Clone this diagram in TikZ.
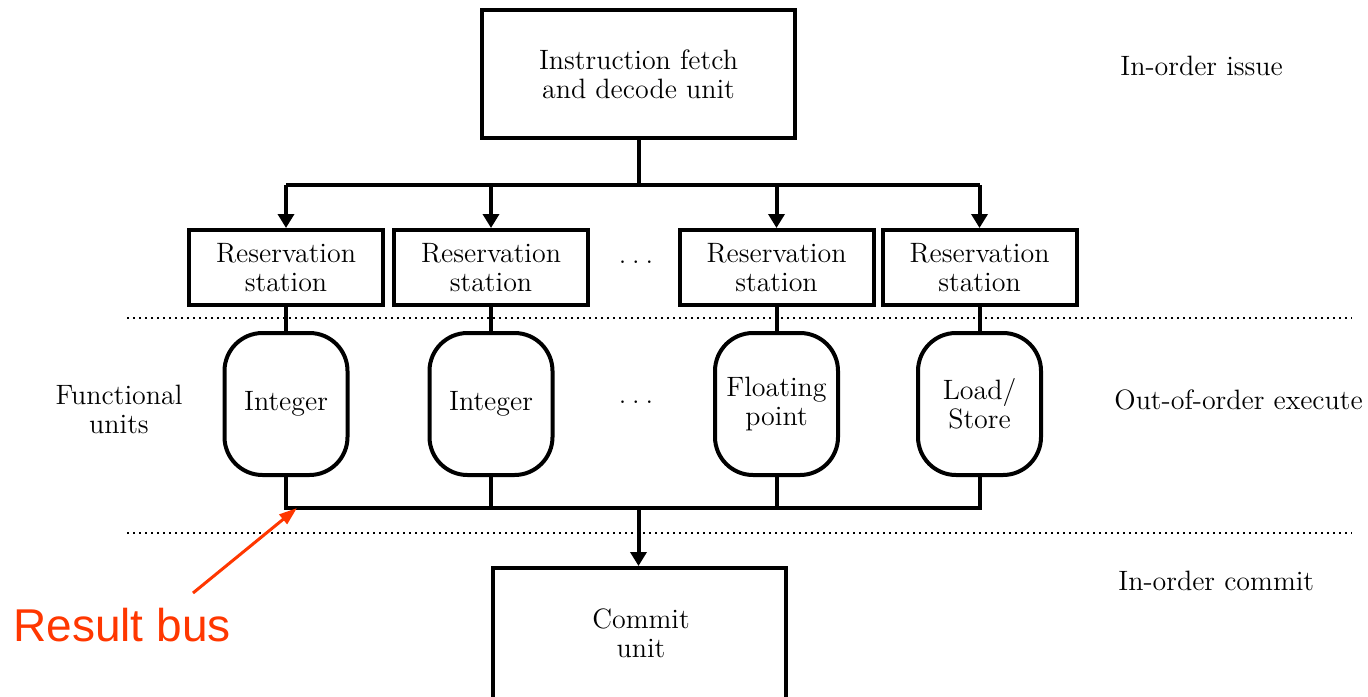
\documentclass[tikz,border=0pt]{standalone}
\usepackage{fontspec}
\newfontfamily\notefont{Liberation Sans}
\usetikzlibrary{arrows.meta}
\definecolor{noteRed}{RGB}{255,55,0}
\begin{document}
\begin{tikzpicture}[x=0.5pt,y=-0.5pt,
  txt/.style={font=\fontsize{14}{14.5}\selectfont, align=center, inner sep=0pt},
  unitbox/.style={txt, draw, line width=2pt},
  rsbox/.style={unitbox, minimum width=97pt, minimum height=37.5pt},
  fubox/.style={unitbox, rounded corners=19pt, minimum width=61.5pt, minimum height=71pt},
  wire/.style={line width=2pt},
  arrowwire/.style={wire, -{Triangle[width=8pt,length=7pt]}},
  sep/.style={line width=1pt, dash pattern=on 1pt off 2pt},
  stage/.style={txt, anchor=west},
  gap/.style={txt, font=\fontsize{16}{16}\selectfont}
]
\useasboundingbox (0,0) rectangle (1368,696);
\clip (0,0) rectangle (1368,696);
\fill[white] (0,0) rectangle (1368,696);

% stage separators
\draw[sep] (127,318) -- (1352,318);
\draw[sep] (127,533) -- (1352,533);

% issue stage
\node[unitbox, minimum width=156.5pt, minimum height=64pt] (ifu) at (638.5,74)
  {Instruction fetch\\and decode unit};

\node[rsbox] (rs1) at (286,267.5) {Reservation\\station};
\node[rsbox] (rs2) at (491,267.5) {Reservation\\station};
\node[gap] (rsdots) at (636,262) {.\,.\,.};
\node[rsbox] (rs3) at (776.5,267.5) {Reservation\\station};
\node[rsbox] (rs4) at (979.5,267.5) {Reservation\\station};

% functional units
\node[fubox] (fu1) at (286,404) {Integer};
\node[fubox] (fu2) at (491,404) {Integer};
\node[gap] (fudots) at (636,402) {.\,.\,.};
\node[fubox] (fu3) at (776.5,404) {Floating\\point};
\node[fubox] (fu4) at (979.5,404) {Load/\\Store};

% commit stage: the box runs past the lower edge of the page
\node[unitbox, minimum width=146.5pt, minimum height=75pt] (cu) at (639.5,643) {};
\node[txt] (cutext) at (641,633) {Commit\\unit};

% stage labels
\node[stage] (lissue) at (1120,66) {In-order issue};
\node[stage] (lexec) at (1114,400) {Out-of-order execute};
\node[stage] (lcommit) at (1118,581) {In-order commit};
\node[txt] (lfu) at (119,409.5) {Functional\\units};

% dispatch tree
\coordinate (fork) at (638.5,185);
\draw[wire] (ifu.south) -- (fork);
\draw[wire] (rs1.north |- fork) -- (rs4.north |- fork);
\foreach \r in {rs1,rs2,rs3,rs4}
  \draw[arrowwire] (\r.north |- fork) -- (\r.north);

% station to unit links
\foreach \i in {1,2,3,4}
  \draw[wire] (rs\i.south) -- (fu\i.north);

% result bus
\coordinate (bus) at (638.5,508);
\draw[wire] (fu1.south) -- (fu1.south |- bus) -- (fu4.south |- bus) -- (fu4.south);
\draw[wire] (fu2.south) -- (fu2.south |- bus);
\draw[wire] (fu3.south) -- (fu3.south |- bus);
\draw[arrowwire] (bus) -- (bus |- cu.north);

% annotation
\node[anchor=base west, inner sep=0pt, text=noteRed, font=\notefont\fontsize{23}{23}\selectfont]
  (note) at (13,641) {Result bus};
\coordinate (notetail) at (193,593);
\coordinate (notehead) at (297,508);
\draw[noteRed, line width=1.5pt, -{Triangle[width=6pt,length=9pt]}] (notetail) -- (notehead);
\end{tikzpicture}
\end{document}
